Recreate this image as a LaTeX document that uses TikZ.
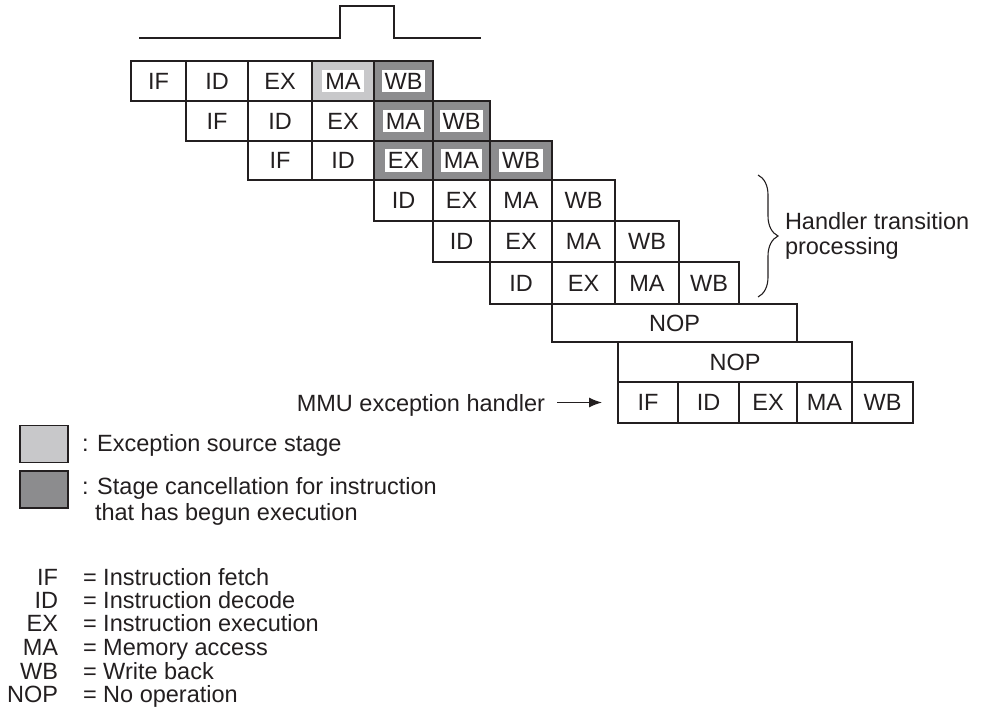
\documentclass[tikz,border=0pt]{standalone}
\usepackage{fontspec}
\setmainfont{Liberation Sans}
\usetikzlibrary{arrows.meta,decorations.pathreplacing}
\definecolor{lightg}{RGB}{200,200,202}
\definecolor{darkg}{RGB}{140,140,142}
\definecolor{ink}{RGB}{35,31,32}
\newcommand\wbox[1]{{\setlength\fboxsep{3pt}\colorbox{white}{#1}}}
\newcommand\stg[7]{\node[#6, minimum width={(#3-#2)*1pt}, minimum height={(#5-#4)*1pt}] (#1) at ({(#2+#3)/2},{(#4+#5)/2}) {#7};}
\begin{document}
\begin{tikzpicture}[x=1pt,y=-1pt,
  every node/.style={font=\fontsize{23.5}{25}\selectfont, text=ink, inner sep=0pt, outer sep=0pt},
  cell/.style={draw=ink, line width=1.2pt},
  srcc/.style={cell, fill=lightg},
  canc/.style={cell, fill=darkg},
  wire/.style={draw=ink, line width=1.2pt},
  lbl/.style={anchor=base west},
  abbr/.style={anchor=base east}]
\useasboundingbox (0,0) rectangle (992,722);
% clock
\coordinate (k0) at (139,38);
\coordinate (k1) at (340,38);
\coordinate (k2) at (340,6);
\coordinate (k3) at (394,6);
\coordinate (k4) at (394,38);
\coordinate (k5) at (481,38);
\draw[wire] (k0) -- (k1) -- (k2) -- (k3) -- (k4) -- (k5);
% row 1
\stg{a1}{131}{186}{61}{101}{cell}{IF}
\stg{a2}{186}{248}{61}{101}{cell}{ID}
\stg{a3}{248}{312}{61}{101}{cell}{EX}
\stg{a4}{312}{374}{61}{101}{srcc}{\wbox{MA}}
\stg{a5}{374}{433}{61}{101}{canc}{\wbox{WB}}
% row 2
\stg{b1}{186}{248}{101}{141}{cell}{IF}
\stg{b2}{248}{312}{101}{141}{cell}{ID}
\stg{b3}{312}{374}{101}{141}{cell}{EX}
\stg{b4}{374}{433}{101}{141}{canc}{\wbox{MA}}
\stg{b5}{433}{490}{101}{141}{canc}{\wbox{WB}}
% row 3
\stg{c1}{248}{312}{141}{180}{cell}{IF}
\stg{c2}{312}{374}{141}{180}{cell}{ID}
\stg{c3}{374}{433}{141}{180}{canc}{\wbox{EX}}
\stg{c4}{433}{490}{141}{180}{canc}{\wbox{MA}}
\stg{c5}{490}{552}{141}{180}{canc}{\wbox{WB}}
% row 4
\stg{d1}{374}{433}{180}{221}{cell}{ID}
\stg{d2}{433}{490}{180}{221}{cell}{EX}
\stg{d3}{490}{552}{180}{221}{cell}{MA}
\stg{d4}{552}{615}{180}{221}{cell}{WB}
% row 5
\stg{e1}{433}{490}{221}{262}{cell}{ID}
\stg{e2}{490}{552}{221}{262}{cell}{EX}
\stg{e3}{552}{615}{221}{262}{cell}{MA}
\stg{e4}{615}{679}{221}{262}{cell}{WB}
% row 6
\stg{f1}{490}{552}{262}{304}{cell}{ID}
\stg{f2}{552}{615}{262}{304}{cell}{EX}
\stg{f3}{615}{679}{262}{304}{cell}{MA}
\stg{f4}{679}{739}{262}{304}{cell}{WB}
% NOPs
\stg{g1}{552}{797}{304}{342}{cell}{NOP}
\stg{h1}{618}{852}{342}{382}{cell}{NOP}
% handler
\stg{i1}{618}{678}{382}{423}{cell}{IF}
\stg{i2}{678}{739}{382}{423}{cell}{ID}
\stg{i3}{739}{797}{382}{423}{cell}{EX}
\stg{i4}{797}{852}{382}{423}{cell}{MA}
\stg{i5}{852}{913}{382}{423}{cell}{WB}
% MMU label and arrow
\node[anchor=base east] (mmu) at (545,411) {MMU exception handler};
\draw[wire, -{Latex[length=13pt,width=10pt]}] ([xshift=12pt]mmu.east |- i1.west) -- ([xshift=-16pt]i1.west);
% brace
\coordinate (bt) at (758,175);
\coordinate (bb) at (758,297);
\draw[ink, line width=1.1pt, decorate, decoration={brace, amplitude=20pt}] (bt) -- (bb);
\node[anchor=west, align=left] (htp) at (785,236) {Handler transition\\processing};
% legend
\node[cell, fill=lightg, minimum width=48pt, minimum height=37pt] (lg1) at (44,444) {};
\node[cell, fill=darkg, minimum width=48pt, minimum height=37pt] (lg2) at (44,489.5) {};
\node[lbl] (lt1) at (82,451.4) {: Exception source stage};
\node[lbl] (lt2) at (82,494.4) {: Stage cancellation for instruction};
\node[lbl] (lt3) at (95,520.4) {that has begun execution};
% definitions
\node[abbr] (ab1) at (58,585.4) {IF};
\node[abbr] (ab2) at (58,608.4) {ID};
\node[abbr] (ab3) at (58,631.4) {EX};
\node[abbr] (ab4) at (58,655.4) {MA};
\node[abbr] (ab5) at (58,679.4) {WB};
\node[abbr] (ab6) at (58,702.4) {NOP};
\node[lbl] (df1) at (83,585.4) {= Instruction fetch};
\node[lbl] (df2) at (83,608.4) {= Instruction decode};
\node[lbl] (df3) at (83,631.4) {= Instruction execution};
\node[lbl] (df4) at (83,655.4) {= Memory access};
\node[lbl] (df5) at (83,679.4) {= Write back};
\node[lbl] (df6) at (83,702.4) {= No operation};
\end{tikzpicture}
\end{document}
